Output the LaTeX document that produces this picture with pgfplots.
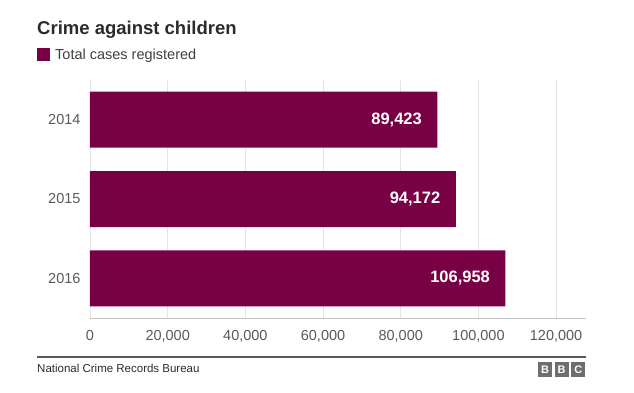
\documentclass[border=0pt]{standalone}
\usepackage{pgfplots}
\pgfplotsset{compat=1.18}
\usepackage{fontspec}
\setmainfont{Liberation Sans}
\definecolor{barc}{HTML}{7A0046}
\definecolor{titc}{HTML}{2B2B2B}
\definecolor{legc}{HTML}{404040}
\definecolor{tickc}{HTML}{595959}
\definecolor{gridc}{HTML}{E4E4E4}
\definecolor{bbcc}{HTML}{6E6E6E}
\begin{document}
\begin{tikzpicture}[x=1pt,y=1pt]
\begin{axis}[
  at={(0,0)}, anchor=south west,
  scale only axis, width=496pt, height=238pt,
  xbar, bar width=56pt,
  xmin=0, xmax=127700, ymin=-0.5, ymax=2.5,
  y dir=reverse,
  ytick={0,1,2}, yticklabels={2014,2015,2016},
  xtick={0,20000,40000,60000,80000,100000,120000},
  xticklabels={0,{20,000},{40,000},{60,000},{80,000},{100,000},{120,000}},
  scaled x ticks=false,
  axis line style={draw=none},
  major tick length=0pt,
  xmajorgrids, grid style={gridc, line width=0.8pt},
  ymajorgrids=false,
  tick label style={font=\fontsize{14.5}{16}\selectfont, text=tickc},
  xticklabel style={yshift=-9pt},
  yticklabel style={xshift=-6pt},
  point meta=explicit symbolic,
  nodes near coords,
  nodes near coords style={anchor=east, xshift=-12pt, text=white, font=\fontsize{16.5}{18}\selectfont\bfseries},
  clip=false,
]
\addplot[fill=barc, draw=none] coordinates {(89423,0) [89,423] (94172,1) [94,172] (106958,2) [106,958]};
\draw[gridc!85!black, line width=0.8pt] (axis cs:0,2.5) -- (axis cs:127700,2.5);
\end{axis}
% title and legend (pixel (px,py) -> (px-90, 318-py))
\node[anchor=base west, inner sep=0, text=titc, font=\fontsize{18.5}{20}\selectfont\bfseries] at (-53,283) {Crime against children};
\fill[barc] (-53,257) rectangle (-40,270);
\node[anchor=base west, inner sep=0, text=legc, font=\fontsize{14.5}{16}\selectfont] at (-35,258) {Total cases registered};
% footer
\draw[black!65, line width=1.6pt] (-53,-39) -- (496,-39);
\node[anchor=base west, inner sep=0, text=titc, font=\fontsize{11.5}{13}\selectfont] at (-53,-55) {National Crime Records Bureau};
\foreach \i/\l in {0/B,1/B,2/C}{
  \fill[bbcc] (448+\i*16.7,-59) rectangle (462+\i*16.7,-44);
  \node[text=white, font=\fontsize{11}{12}\selectfont\bfseries, inner sep=0] at (455+\i*16.7,-51.5) {\l};
}
\pgfresetboundingbox
\useasboundingbox (-90,-75) rectangle (544,318);
\end{tikzpicture}
\end{document}
